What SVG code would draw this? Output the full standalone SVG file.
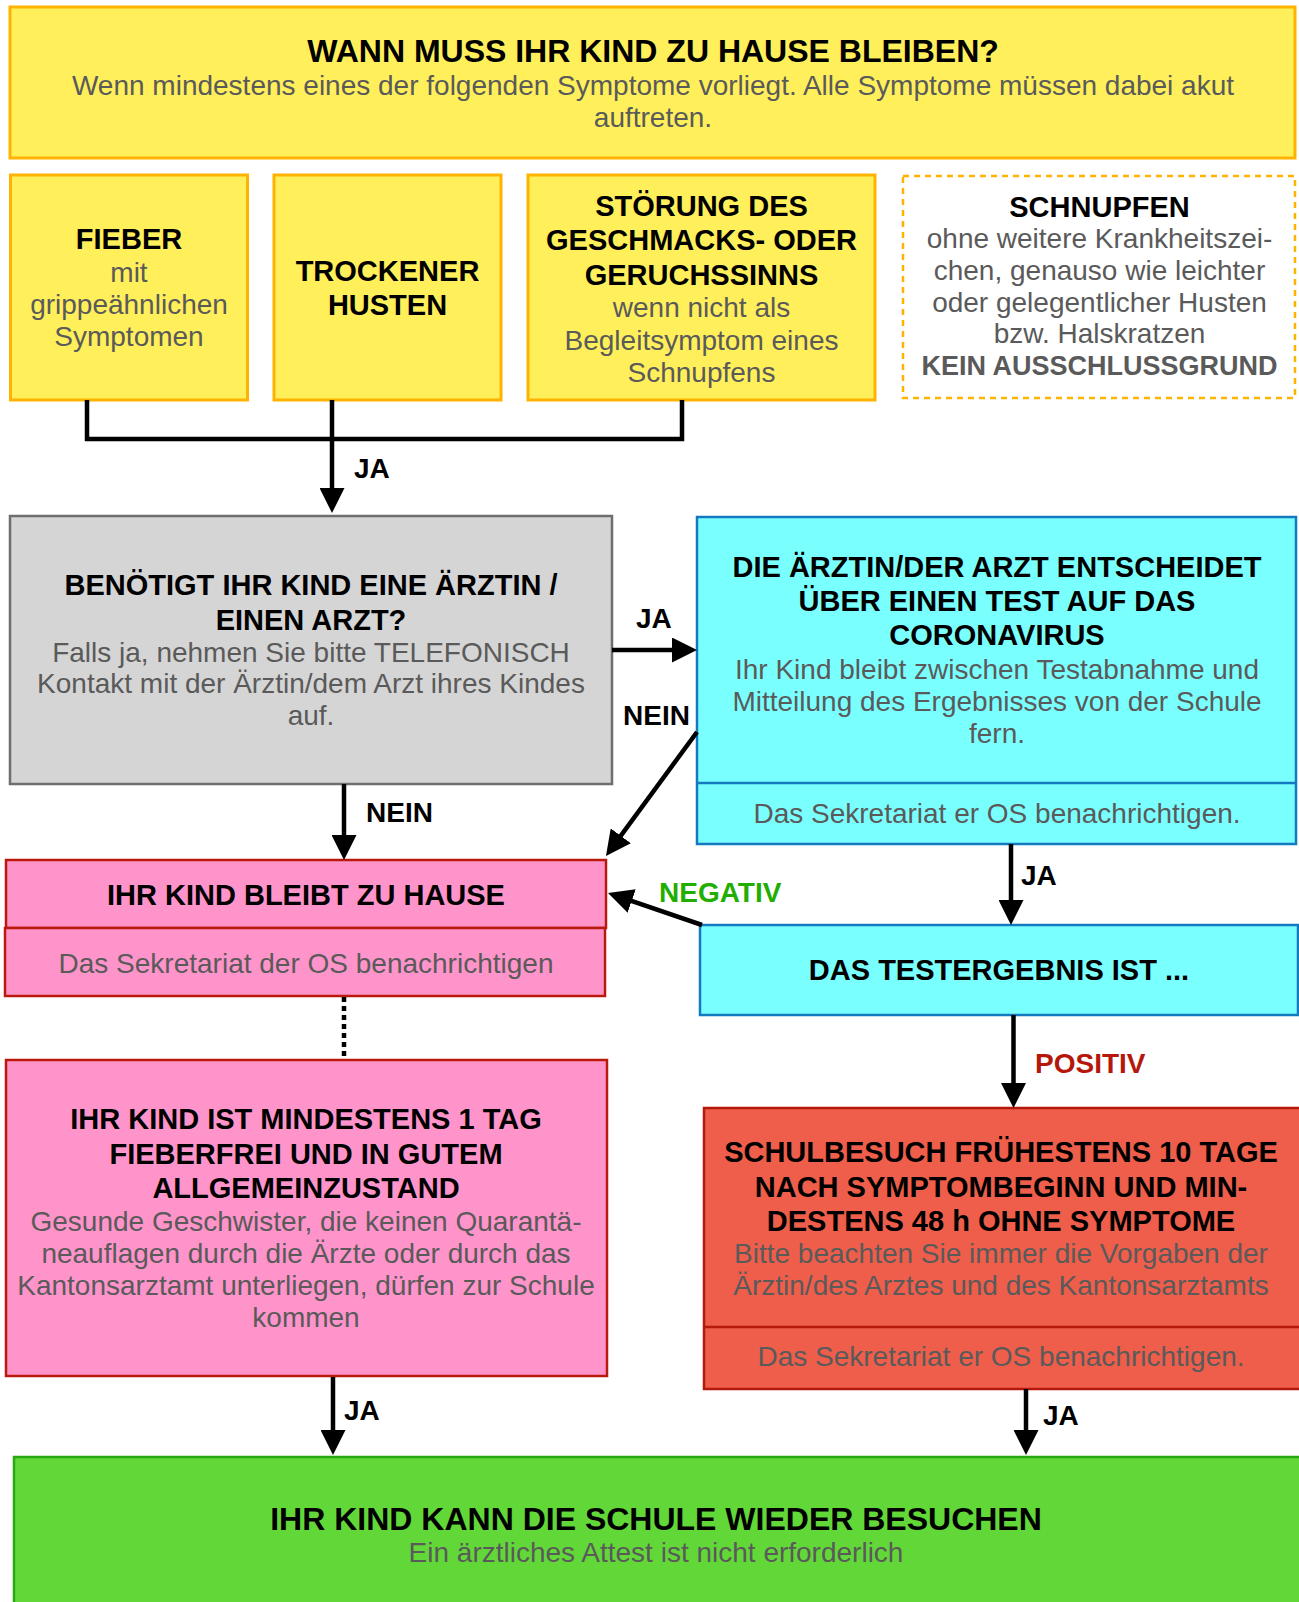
<svg xmlns="http://www.w3.org/2000/svg" width="1299" height="1602" viewBox="0 0 1299 1602">
<style>
text{font-family:"Liberation Sans",Arial,Helvetica,sans-serif;text-anchor:middle}
.h{font-size:32px;font-weight:bold;fill:#000}
.b{font-size:29px;font-weight:bold;fill:#000}
.n{font-size:28px;fill:#5a5a5a}
.nb{font-size:27px;font-weight:bold;fill:#5a5a5a}
.lbl{font-size:28px;font-weight:bold;fill:#000;text-anchor:start}
.yel{fill:#FFEF5A;stroke:#FFB300;stroke-width:3}
.gray{fill:#D5D5D5;stroke:#6E6E6E;stroke-width:2.5}
.cyan{fill:#7AFFFF;stroke:#1579BF;stroke-width:2.5}
.pink{fill:#FF94CA;stroke:#BA1A0C;stroke-width:2.5}
.red{fill:#EE5E4A;stroke:#B5190B;stroke-width:2.5}
.green{fill:#62D838;stroke:#2AA80F;stroke-width:2.5}
.con{fill:none;stroke:#000;stroke-width:4.5}
</style>
<defs>
<marker id="arr" viewBox="0 0 25 25" markerWidth="25" markerHeight="25" refX="15" refY="12.5" markerUnits="userSpaceOnUse" orient="auto">
<path d="M0,0 L25,12.5 L0,25 Z" fill="#000"/>
</marker>
</defs>

<g id="node-header">
<rect class="yel" x="10" y="7" width="1285" height="151"/>
<text class="h" x="653" y="62">WANN MUSS IHR KIND ZU HAUSE BLEIBEN?</text>
<text class="n" x="653" y="95">Wenn mindestens eines der folgenden Symptome vorliegt. Alle Symptome müssen dabei akut</text>
<text class="n" x="653" y="127">auftreten.</text>
</g>

<g id="node-fieber">
<rect class="yel" x="10.5" y="175" width="237" height="225"/>
<text class="b" x="129" y="249">FIEBER</text>
<text class="n" x="129" y="282">mit</text>
<text class="n" x="129" y="314">grippeähnlichen</text>
<text class="n" x="129" y="346">Symptomen</text>
</g>

<g id="node-husten">
<rect class="yel" x="274" y="175" width="227" height="225"/>
<text class="b" x="387.5" y="281">TROCKENER</text>
<text class="b" x="387.5" y="315">HUSTEN</text>
</g>

<g id="node-geschmack">
<rect class="yel" x="528" y="175" width="347" height="225"/>
<text class="b" x="701.5" y="216">STÖRUNG DES</text>
<text class="b" x="701.5" y="250">GESCHMACKS- ODER</text>
<text class="b" x="701.5" y="285">GERUCHSSINNS</text>
<text class="n" x="701.5" y="317">wenn nicht als</text>
<text class="n" x="701.5" y="350">Begleitsymptom eines</text>
<text class="n" x="701.5" y="382">Schnupfens</text>
</g>

<g id="node-schnupfen">
<rect x="903" y="176" width="392" height="222" fill="#FFFFFF" stroke="#FFB300" stroke-width="2.5" stroke-dasharray="6 5"/>
<text class="b" x="1099.5" y="217">SCHNUPFEN</text>
<text class="n" x="1099.5" y="248">ohne weitere Krankheitszei-</text>
<text class="n" x="1099.5" y="280">chen, genauso wie leichter</text>
<text class="n" x="1099.5" y="312">oder gelegentlicher Husten</text>
<text class="n" x="1099.5" y="343">bzw. Halskratzen</text>
<text class="nb" x="1099.5" y="375">KEIN AUSSCHLUSSGRUND</text>
</g>

<g id="node-arzt-frage">
<rect class="gray" x="10" y="516" width="602" height="268"/>
<text class="b" x="311" y="595">BENÖTIGT IHR KIND EINE ÄRZTIN /</text>
<text class="b" x="311" y="630">EINEN ARZT?</text>
<text class="n" x="311" y="662">Falls ja, nehmen Sie bitte TELEFONISCH</text>
<text class="n" x="311" y="693">Kontakt mit der Ärztin/dem Arzt ihres Kindes</text>
<text class="n" x="311" y="725">auf.</text>
</g>

<g id="node-arzt-test">
<rect class="cyan" x="697" y="517" width="599" height="327"/>
<line x1="697" y1="783" x2="1296" y2="783" stroke="#1579BF" stroke-width="2.5"/>
<text class="b" x="997" y="577">DIE ÄRZTIN/DER ARZT ENTSCHEIDET</text>
<text class="b" x="997" y="611">ÜBER EINEN TEST AUF DAS</text>
<text class="b" x="997" y="645">CORONAVIRUS</text>
<text class="n" x="997" y="679">Ihr Kind bleibt zwischen Testabnahme und</text>
<text class="n" x="997" y="711">Mitteilung des Ergebnisses von der Schule</text>
<text class="n" x="997" y="743">fern.</text>
<text class="n" x="997" y="823">Das Sekretariat er OS benachrichtigen.</text>
</g>

<g id="node-zuhause">
<rect class="pink" x="6" y="860" width="600" height="68"/>
<rect class="pink" x="5" y="928" width="600" height="68"/>
<text class="b" x="306" y="905">IHR KIND BLEIBT ZU HAUSE</text>
<text class="n" x="306" y="973">Das Sekretariat der OS benachrichtigen</text>
</g>

<g id="node-fieberfrei">
<rect class="pink" x="6" y="1060" width="601" height="316"/>
<text class="b" x="306" y="1129">IHR KIND IST MINDESTENS 1 TAG</text>
<text class="b" x="306" y="1164">FIEBERFREI UND IN GUTEM</text>
<text class="b" x="306" y="1198">ALLGEMEINZUSTAND</text>
<text class="n" x="306" y="1231">Gesunde Geschwister, die keinen Quarantä-</text>
<text class="n" x="306" y="1263">neauflagen durch die Ärzte oder durch das</text>
<text class="n" x="306" y="1295">Kantonsarztamt unterliegen, dürfen zur Schule</text>
<text class="n" x="306" y="1327">kommen</text>
</g>

<g id="node-testergebnis">
<rect class="cyan" x="700" y="925" width="598" height="90"/>
<text class="b" x="999" y="980">DAS TESTERGEBNIS IST ...</text>
</g>

<g id="node-positiv">
<rect class="red" x="704" y="1108" width="597" height="281"/>
<line x1="704" y1="1327" x2="1301" y2="1327" stroke="#B5190B" stroke-width="2.5"/>
<text class="b" x="1001" y="1162">SCHULBESUCH FRÜHESTENS 10 TAGE</text>
<text class="b" x="1001" y="1197">NACH SYMPTOMBEGINN UND MIN-</text>
<text class="b" x="1001" y="1231">DESTENS 48 h OHNE SYMPTOME</text>
<text class="n" x="1001" y="1263">Bitte beachten Sie immer die Vorgaben der</text>
<text class="n" x="1001" y="1295">Ärztin/des Arztes und des Kantonsarztamts</text>
<text class="n" x="1001" y="1366">Das Sekretariat er OS benachrichtigen.</text>
</g>

<g id="node-schule">
<rect class="green" x="14" y="1457" width="1287" height="160"/>
<text class="h" x="656" y="1530">IHR KIND KANN DIE SCHULE WIEDER BESUCHEN</text>
<text class="n" x="656" y="1562">Ein ärztliches Attest ist nicht erforderlich</text>
</g>

<g id="connectors">
<polyline class="con" points="87,400 87,439 682,439 682,400"/>
<line class="con" x1="332" y1="400" x2="332" y2="503" marker-end="url(#arr)"/>
<text class="lbl" x="354" y="478">JA</text>

<line class="con" x1="612" y1="650" x2="687" y2="650" marker-end="url(#arr)"/>
<text class="lbl" x="636" y="628">JA</text>

<line class="con" x1="697" y1="732" x2="611.9" y2="847.9" marker-end="url(#arr)"/>
<text class="lbl" x="623" y="725">NEIN</text>

<line class="con" x1="344" y1="784" x2="344" y2="850" marker-end="url(#arr)"/>
<text class="lbl" x="366" y="822">NEIN</text>

<line class="con" x1="344" y1="997" x2="344" y2="1060" stroke-dasharray="5 4"/>

<line class="con" x1="1011" y1="844" x2="1011" y2="915" marker-end="url(#arr)"/>
<text class="lbl" x="1021" y="885">JA</text>

<line class="con" x1="702" y1="925" x2="617.5" y2="896.2" marker-end="url(#arr)"/>
<text class="lbl" x="659" y="902" style="fill:#22AE00">NEGATIV</text>

<line class="con" x1="1013.5" y1="1015" x2="1013.5" y2="1098" marker-end="url(#arr)"/>
<text class="lbl" x="1035" y="1073" style="fill:#B5170B">POSITIV</text>

<line class="con" x1="333" y1="1377" x2="333" y2="1445" marker-end="url(#arr)"/>
<text class="lbl" x="344" y="1420">JA</text>

<line class="con" x1="1026" y1="1389" x2="1026" y2="1445" marker-end="url(#arr)"/>
<text class="lbl" x="1043" y="1425">JA</text>
</g>
</svg>
